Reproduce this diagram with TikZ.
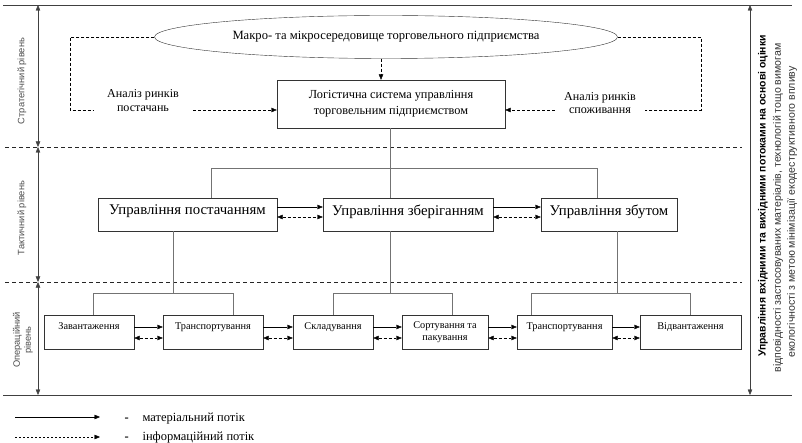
\documentclass[tikz,border=0pt]{standalone}
\usepackage{fontspec}
\setmainfont{Liberation Serif}
\setsansfont{Liberation Sans}
\usetikzlibrary{arrows.meta, calc, shapes.geometric}

\begin{document}
\begin{tikzpicture}[x=1pt, y=-1pt, >={Triangle[length=5.5pt,width=4.5pt]},
  box/.style={draw=black!80, minimum height=33pt, inner sep=1pt, text depth=9pt, font=\rmfamily\fontsize{14.8}{16}\selectfont},
  opbase/.style={draw=black!80, minimum height=34pt, inner sep=1pt, font=\rmfamily\fontsize{10.3}{12}\selectfont},
  opbox/.style={opbase, text depth=11pt},
  mat/.style={->, black},
  inf/.style={->, black, dash pattern=on 3pt off 2pt},
  infb/.style={<->, black, dash pattern=on 3pt off 2pt},
  link/.style={black!55},
  lvl/.style={black!85, line width=0.9pt, dash pattern=on 4pt off 3pt},
  lvlarr/.style={<->, black!75},
  side/.style={rotate=90, font=\sffamily\fontsize{9.3}{11}\selectfont, text=black!70, align=center},
  note/.style={rotate=90, font=\sffamily\fontsize{10.6}{12}\selectfont, text=black!80},
  legtext/.style={anchor=base west, font=\rmfamily\fontsize{12.5}{13}\selectfont}]
\useasboundingbox (0,0) rectangle (802,443);

% frame lines and levels
\draw[black!75] (3,5) -- (792,5);
\draw[black!75] (3,395) -- (792,395);
\draw[lvl] (5,147) -- (742,147);
\draw[lvl] (5,282) -- (742,282);
\draw[lvlarr] (38,5) -- (38,147);
\draw[lvlarr] (38,147) -- (38,282);
\draw[lvlarr] (38,282) -- (38,395);
\draw[lvlarr] (750,5) -- (750,395);
\node[side] (lv1) at (22,81) {Стратегічний рівень};
\node[side] (lv2) at (22,218) {Тактичний рівень};
\node[side] (lv3) at (23,340) {Операційний\\рівень};

\node[note, font=\sffamily\bfseries\fontsize{10.4}{12}\selectfont, text=black] (rt1) at (763,196) {Управління вхідними та вихідними потоками на основі оцінки};
\node[note] (rt2) at (778,208) {відповідності застосовуваних матеріалів, технологій тощо вимогам};
\node[note] (rt3) at (792,212) {екологічності з метою мінімізації екодеструктивного впливу};

% strategic level
\node[ellipse, draw=black!80, minimum width=463pt, minimum height=43pt, inner sep=0pt, font=\rmfamily\fontsize{12.6}{14}\selectfont] (ell) at (386,37) {\raisebox{3pt}{Макро- та мікросередовище торговельного підприємства}};
\node[draw=black!80, minimum width=228pt, minimum height=48pt, align=center, font=\rmfamily\fontsize{12.3}{16}\selectfont] (log) at (391,104) {Логістична система управління\\торговельним підприємством};
\node[align=center, inner xsep=14pt, font=\rmfamily\fontsize{12.1}{14}\selectfont] (an1) at (143,101) {Аналіз ринків\\постачань};
\node[align=center, inner xsep=9pt, font=\rmfamily\fontsize{12.1}{13}\selectfont] (an2) at (600,103) {Аналіз ринків\\споживання};
\draw[inf] (ell.south -| 381,0) -- (log.north -| 381,0);
\draw[dash pattern=on 3pt off 2pt] (ell.west) -| (70,110) -- (an1.west |- 0,110);
\draw[inf] (an1.east |- 0,110) -- (log.west |- 0,110);
\draw[dash pattern=on 3pt off 2pt] (ell.east) -| (701,110) -- (an2.east |- 0,110);
\draw[inf] (an2.west |- 0,110) -- (log.east |- 0,110);

% tactical level
\node[box, minimum width=179pt] (post) at (187.5,214.5) {Управління постачанням};
\node[box, minimum width=170pt] (zber) at (408,214.5) {Управління зберіганням};
\node[box, minimum width=136pt] (zbut) at (609,214.5) {Управління збутом};
\draw[link] (log.south -| 390,0) -- (zber.north -| 390,0);
\draw[link] (post.north -| 211,0) |- (597,168) -- (zbut.north -| 597,0);
\foreach \a/\b in {post/zber, zber/zbut} {
  \draw[mat] (\a.east |- 0,207) -- (\b.west |- 0,207);
  \draw[infb] (\a.east |- 0,217) -- (\b.west |- 0,217);
}

% operational level
\node[opbox, minimum width=90pt] (zav) at (89,332) {Завантаження};
\node[opbox, minimum width=100pt] (tr1) at (213,332) {Транспортування};
\node[opbox, minimum width=80pt] (skl) at (333,332) {Складування};
\node[opbase, minimum width=86pt, align=center] (sort) at (445,332) {Сортування та\\пакування};
\node[opbox, minimum width=95pt] (tr2) at (564.5,332) {Транспортування};
\node[opbox, minimum width=101pt] (vidv) at (690.5,332) {Відвантаження};
\draw[link] (post.south -| 173,0) -- (173,293);
\draw[link] (zav.north -| 93,0) |- (233,293) -- (tr1.north -| 233,0);
\draw[link] (zber.south -| 390,0) -- (390,293);
\draw[link] (skl.north -| 333,0) |- (452,293) -- (sort.north -| 452,0);
\draw[link] (zbut.south -| 617,0) -- (617,293);
\draw[link] (tr2.north -| 531,0) |- (690,293) -- (vidv.north -| 690,0);
\foreach \a/\b in {zav/tr1, tr1/skl, skl/sort, sort/tr2, tr2/vidv} {
  \draw[mat] (\a.east |- 0,327) -- (\b.west |- 0,327);
  \draw[infb] (\a.east |- 0,338) -- (\b.west |- 0,338);
}

% legend
\coordinate (m1) at (15,417);
\coordinate (m2) at (100,417);
\coordinate (i1) at (15,437);
\coordinate (i2) at (100,437);
\draw[mat] (m1) -- (m2);
\draw[->, dash pattern=on 2pt off 2pt] (i1) -- (i2);
\node[legtext, font=\rmfamily\bfseries\fontsize{12.5}{13}\selectfont] (d1) at (121,421) {-};
\node[legtext, font=\rmfamily\bfseries\fontsize{12.5}{13}\selectfont] (d2) at (121,440) {-};
\node[legtext] (t1) at (139,421) {матеріальний потік};
\node[legtext] (t2) at (139,440) {інформаційний потік};
\end{tikzpicture}
\end{document}
